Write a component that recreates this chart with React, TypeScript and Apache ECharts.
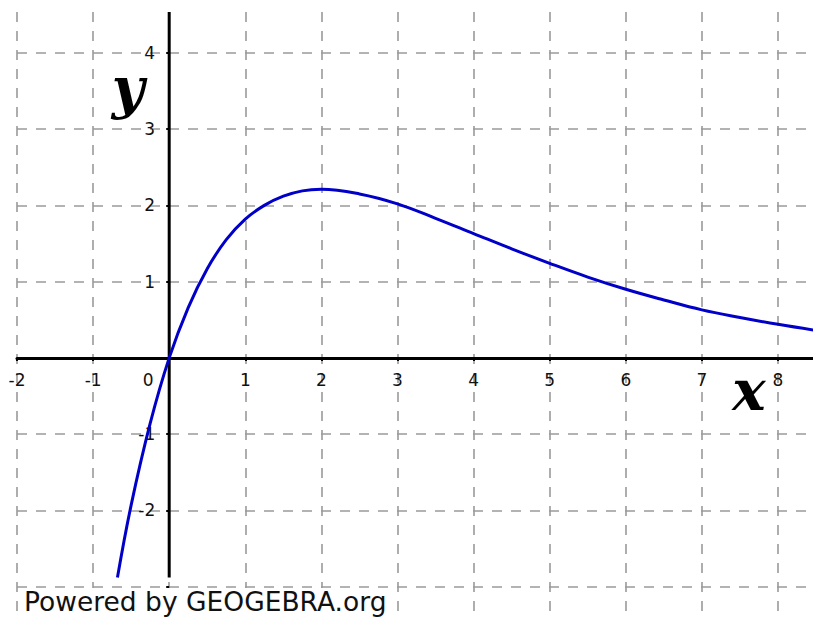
import React, { useEffect, useRef } from 'react';
import * as echarts from 'echarts';

// Curve points (x, y)
const curveX = [-0.68, -0.5, -0.25, 0, 0.25, 0.5, 0.75, 1, 1.25, 1.5, 1.75, 2, 2.5, 3, 3.5, 4, 4.5, 5, 5.5, 6, 6.5, 7, 7.5, 8, 8.5];
const curveY = [-2.88, -1.93, -0.86, 0, 0.66, 1.17, 1.55, 1.82, 2.0, 2.12, 2.19, 2.21, 2.15, 2.02, 1.83, 1.63, 1.43, 1.24, 1.06, 0.9, 0.76, 0.63, 0.53, 0.44, 0.36];

// Visible window of the view
const xMin = -2;
const xMax = 8.46;
const yMin = -4;
const yMax = 4.535;

// Visible vertical axis extent (axis is clipped near the bottom)
const yAxisSpan = [-2.88, 4.535];

const xTickLabels = [-2, -1, 0, 1, 2, 3, 4, 5, 6, 7, 8];
const yTickLabels = [-2, -1, 1, 2, 3, 4];

const axisTitleX = 'x';
const axisTitleY = 'y';
const footerText = 'Powered by GEOGEBRA.org';

const W = 813;
const H = 617;
const GRID = { left: 17, right: 0, top: 12, bottom: -46 };

export default function App() {
  const ref = useRef<HTMLDivElement>(null);

  useEffect(() => {
    if (!ref.current) return;
    const chart = echarts.init(ref.current, undefined, { renderer: 'svg' });
    const gridLine = { color: '#9a9a9a', width: 1.6, type: [10, 9] as any };
    const labelFont = { fontFamily: 'DejaVu Sans', fontSize: 17, color: '#111' };

    const pxPerX = (W - GRID.left - GRID.right) / (xMax - xMin);
    const pxPerY = (H - GRID.top - GRID.bottom) / (yMax - yMin);
    const xAxisOffset = -(0 - yMin) * pxPerY; // move x axis up to y = 0
    const yAxisOffset = -(0 - xMin) * pxPerX; // move y axis right to x = 0

    chart.setOption({
      animation: false,
      backgroundColor: '#ffffff',
      grid: { ...GRID, containLabel: false, outerBoundsMode: 'none' },
      xAxis: {
        type: 'value',
        min: xMin,
        max: xMax,
        interval: 1,
        position: 'bottom',
        offset: xAxisOffset,
        axisLine: { show: true, onZero: false, lineStyle: { color: '#000', width: 3 } },
        axisTick: { show: true, length: 3, lineStyle: { color: '#000', width: 2 } },
        axisLabel: {
          ...labelFont,
          margin: 14,
          showMaxLabel: false,
          hideOverlap: false,
          formatter: (v: number) => {
            if (!xTickLabels.includes(v)) return '';
            if (v === 0) return '{z|0}';
            return String(v);
          },
          rich: { z: { ...labelFont, padding: [0, 42, 0, 0] } },
        },
        splitLine: { show: true, showMaxLine: false, lineStyle: gridLine },
      },
      yAxis: {
        type: 'value',
        min: yMin,
        max: yMax,
        interval: 1,
        position: 'left',
        offset: yAxisOffset,
        axisLine: { show: false, onZero: false },
        axisTick: { show: true, length: 3, lineStyle: { color: '#000', width: 2 } },
        axisLabel: {
          ...labelFont,
          margin: 14,
          align: 'right',
          verticalAlign: 'middle',
          showMaxLabel: false,
          hideOverlap: false,
          formatter: (v: number) => (yTickLabels.includes(v) ? String(v) : ''),
        },
        splitLine: { show: true, showMaxLine: false, showMinLine: false, lineStyle: gridLine },
      },
      series: [
        {
          type: 'line',
          data: yAxisSpan.map((y) => [0, y]),
          symbol: 'none',
          silent: true,
          lineStyle: { color: '#000', width: 3 },
          z: 3,
        },
        {
          type: 'line',
          data: curveX.map((x, i) => [x, curveY[i]]),
          smooth: 0.4,
          symbol: 'none',
          silent: true,
          lineStyle: { color: '#0000c8', width: 3 },
          z: 5,
        },
      ],
      graphic: [
        {
          type: 'text',
          x: 128,
          y: 88,
          z: 50,
          style: {
            text: axisTitleY,
            font: 'italic bold 56px "DejaVu Serif"',
            fill: '#000',
            align: 'center',
            verticalAlign: 'middle',
          },
        },
        {
          type: 'text',
          x: 749,
          y: 390,
          z: 50,
          style: {
            text: axisTitleX,
            font: 'italic bold 56px "DejaVu Serif"',
            fill: '#000',
            align: 'center',
            verticalAlign: 'middle',
          },
        },
        {
          type: 'rect',
          z: 60,
          shape: { x: 20, y: 588, width: 372, height: 29 },
          style: { fill: '#ffffff' },
        },
        {
          type: 'text',
          x: 24,
          y: 588,
          z: 61,
          style: {
            text: footerText,
            font: '26.5px "DejaVu Sans"',
            fill: '#111',
            align: 'left',
            verticalAlign: 'top',
          },
        },
      ],
    });
    return () => chart.dispose();
  }, []);

  return (
    <div
      ref={ref}
      style={{ position: 'fixed', left: 0, top: 0, width: W, height: H, background: '#fff' }}
    />
  );
}
